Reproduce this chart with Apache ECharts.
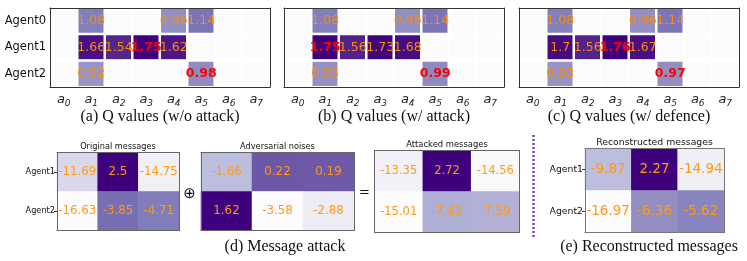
<!DOCTYPE html>
<html><head><meta charset="utf-8">
<script src="https://cdn.jsdelivr.net/npm/echarts@6/dist/echarts.min.js"></script>
<style>html,body{margin:0;padding:0;background:#fff}#c{width:747px;height:261px}</style>
</head><body><div id="c"></div>
<script>
// ---- data ----
const agents = ['Agent0', 'Agent1', 'Agent2'];
const actions = ['0', '1', '2', '3', '4', '5', '6', '7'];
const qNoAttack = [[0,1.08,0,0,0.96,1.14,0,0],[0,1.66,1.54,1.75,1.62,0,0,0],[0,0.92,0,0,0,0.98,0,0]];
const qAttack   = [[0,1.08,0,0,0.96,1.14,0,0],[0,1.75,1.56,1.73,1.68,0,0,0],[0,0.95,0,0,0,0.99,0,0]];
const qDefence  = [[0,1.08,0,0,0.96,1.14,0,0],[0,1.7,1.56,1.76,1.67,0,0,0],[0,0.93,0,0,0,0.97,0,0]];
const hiNoAttack = [[1,3],[2,5]];
const hiAttack   = [[1,1],[2,5]];
const hiDefence  = [[1,3],[2,5]];
const msgAgents = ['Agent1', 'Agent2'];
const msgDims = ['0', '1', '2'];
const original = [[-11.69,2.5,-14.75],[-16.63,-3.85,-4.71]];
const noise    = [[-1.66,0.22,0.19],[1.62,-3.58,-2.88]];
const attacked = [[-13.35,2.72,-14.56],[-15.01,-7.43,-7.59]];
const recon    = [[-9.87,2.27,-14.94],[-16.97,-6.36,-5.62]];

const PURPLES = ['#fcfbfd','#efedf5','#dadaeb','#bcbddc','#9e9ac8','#807dba','#6a51a3','#54278f','#3f007d'];

const topPanels = [
  {m:qNoAttack, hi:hiNoAttack, left:50, cap:'(a) Q values (w/o attack)', showY:true},
  {m:qAttack, hi:hiAttack, left:284, cap:'(b) Q values (w/ attack)', showY:false},
  {m:qDefence, hi:hiDefence, left:519, cap:'(c) Q values (w/ defence)', showY:false}
];
const botPanels = [
  {m:original, left:57, top:152.5, w:122, h:78, title:'Original messages', showY:true, fs:11.8, yfs:8.2, tfs:8.2, bc:'#666'},
  {m:noise, left:201, top:152.5, w:153, h:78, title:'Adversarial noises', showY:false, fs:11.8, yfs:8.2, tfs:8.2, bc:'#666'},
  {m:attacked, left:374.5, top:150.5, w:145, h:82, title:'Attacked messages', showY:false, fs:11.5, yfs:8.2, tfs:8.4, bc:'#666'},
  {m:recon, left:585, top:148.5, w:139, h:84, title:'Reconstructed messages', showY:true, fs:13.5, yfs:9.3, tfs:9.3, bc:'#777'}
];

const grid=[], xAxis=[], yAxis=[], series=[], visualMap=[], graphic=[];
let gi = 0;
function frameX(g, data, pos, color){ return {type:'category', gridIndex:g, data, position:pos, z:10, axisLine:{lineStyle:{color, width:1}}, axisTick:{show:false}, axisLabel:{show:false}, splitLine:{show:false}}; }
function frameY(g, data, pos, color){ return {type:'category', gridIndex:g, data, position:pos, inverse:true, z:10, axisLine:{lineStyle:{color, width:1}}, axisTick:{show:false}, axisLabel:{show:false}, splitLine:{show:false}}; }

topPanels.forEach(p => {
  grid.push({left:p.left, top:8, width:220, height:79});
  const ax = xAxis.length, ay = yAxis.length;
  xAxis.push({type:'category', gridIndex:gi, data:actions, position:'bottom', z:10, axisLine:{lineStyle:{color:'#333'}},
    axisTick:{alignWithLabel:true, length:4, lineStyle:{color:'#333'}}, splitLine:{show:false},
    axisLabel:{interval:0, margin:5, formatter:v=>'{i|a}{s|'+v+'}',
      rich:{i:{fontFamily:'DejaVu Sans', fontStyle:'italic', fontSize:13, color:'#222', lineHeight:16, verticalAlign:'middle'},
            s:{fontFamily:'DejaVu Sans', fontStyle:'italic', fontSize:9, color:'#222', padding:[7,0,0,0], verticalAlign:'bottom'}}}});
  xAxis.push(frameX(gi, actions, 'top', '#333'));
  yAxis.push({type:'category', gridIndex:gi, data:agents, position:'left', inverse:true, z:10, axisLine:{lineStyle:{color:'#333'}},
    axisTick:{alignWithLabel:true, length:4, lineStyle:{color:'#333'}},
    axisLabel:{show:p.showY, interval:0, margin:4, fontFamily:'DejaVu Sans', fontSize:11.5, color:'#111'}});
  yAxis.push(frameY(gi, agents, 'right', '#333'));
  const data=[];
  p.m.forEach((row,r)=>row.forEach((v,c)=>{
    const isHi = p.hi.some(h=>h[0]===r&&h[1]===c);
    const d={value:[c,r,v]};
    if(isHi) d.label={color:'#ff0000', fontWeight:'bold'};
    data.push(d);
  }));
  const mx = Math.max(...p.m.flat());
  series.push({type:'heatmap', xAxisIndex:ax, yAxisIndex:ay, data,
    itemStyle:{borderColor:'#fff', borderWidth:2.5},
    label:{show:true, fontFamily:'DejaVu Sans', fontSize:12.5, color:'#ff8c00', formatter:q=>q.value[2]===0?'':String(q.value[2])},
    emphasis:{disabled:true}});
  visualMap.push({show:false, seriesIndex:gi, dimension:2, min:0, max:mx, inRange:{color:PURPLES}});
  graphic.push({type:'text', x:p.left+110, y:117, style:{text:p.cap, font:'16px "Liberation Serif"', fill:'#111', textAlign:'center', textVerticalAlign:'middle'}});
  gi++;
});
botPanels.forEach(p => {
  grid.push({left:p.left, top:p.top, width:p.w, height:p.h});
  const ax = xAxis.length, ay = yAxis.length;
  xAxis.push(frameX(gi, msgDims, 'bottom', p.bc));
  xAxis.push(frameX(gi, msgDims, 'top', p.bc));
  yAxis.push({type:'category', gridIndex:gi, data:msgAgents, position:'left', inverse:true, z:10, axisLine:{lineStyle:{color:p.bc}},
    axisTick:{show:p.showY, alignWithLabel:true, length:3, lineStyle:{color:'#333'}},
    axisLabel:{show:p.showY, margin:2, fontFamily:'DejaVu Sans', fontSize:p.yfs, color:'#111'}});
  yAxis.push(frameY(gi, msgAgents, 'right', p.bc));
  const data=[];
  p.m.forEach((row,r)=>row.forEach((v,c)=>data.push([c,r,v])));
  const flat=p.m.flat();
  series.push({type:'heatmap', xAxisIndex:ax, yAxisIndex:ay, data,
    label:{show:true, fontFamily:'DejaVu Sans', fontSize:p.fs, color:'#ff9a14', formatter:q=>String(q.value[2])},
    emphasis:{disabled:true}});
  visualMap.push({show:false, seriesIndex:gi, dimension:2, min:Math.min(...flat), max:Math.max(...flat), inRange:{color:PURPLES}});
  graphic.push({type:'text', x:p.left+p.w/2, y:p.top-6, style:{text:p.title, font:p.tfs+'px "DejaVu Sans"', fill:'#111', textAlign:'center', textVerticalAlign:'middle'}});
  gi++;
});
graphic.push({type:'text', x:189.5, y:194, style:{text:'\u2295', font:'15px "DejaVu Sans"', fill:'#111', textAlign:'center', textVerticalAlign:'middle'}});
graphic.push({type:'text', x:364.5, y:193, style:{text:'=', font:'13px "DejaVu Sans"', fill:'#111', textAlign:'center', textVerticalAlign:'middle'}});
graphic.push({type:'line', shape:{x1:533.5,y1:135,x2:533.5,y2:238}, style:{stroke:'#8040c8', lineWidth:2.5, lineDash:[2,2]}});
graphic.push({type:'text', x:285, y:247, style:{text:'(d) Message attack', font:'16px "Liberation Serif"', fill:'#111', textAlign:'center', textVerticalAlign:'middle'}});
graphic.push({type:'text', x:649, y:247, style:{text:'(e) Reconstructed messages', font:'16px "Liberation Serif"', fill:'#111', textAlign:'center', textVerticalAlign:'middle'}});

const chart = echarts.init(document.getElementById('c'), null, {renderer:'canvas'});
chart.setOption({animation:false, grid, xAxis, yAxis, series, visualMap, graphic});
</script></body></html>
